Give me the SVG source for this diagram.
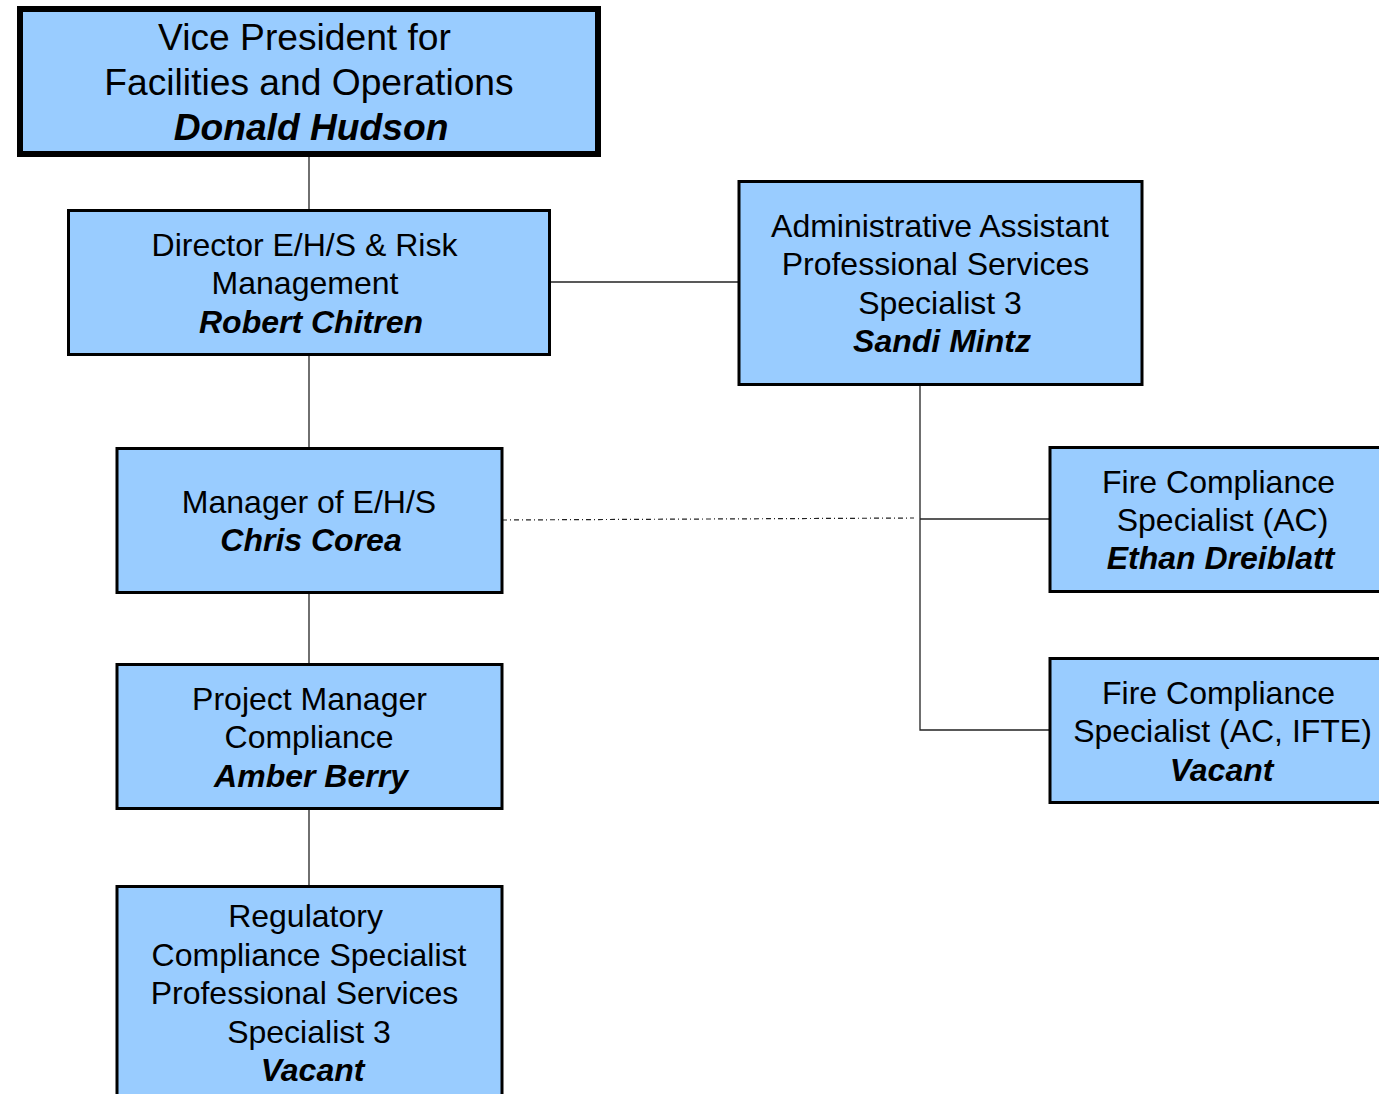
<svg xmlns="http://www.w3.org/2000/svg" width="1379" height="1094" viewBox="0 0 1379 1094">
<style>
.box{fill:#99CCFF;stroke:#000;stroke-width:3}
.t{font-family:"Liberation Sans",Arial,sans-serif;font-size:32px;fill:#000;text-anchor:middle}
.vp{font-size:37.2px}
.n{font-weight:bold;font-style:italic}
.c{stroke:#222;stroke-width:1.3;fill:none}
.d{stroke:#222;stroke-width:1.2;fill:none;stroke-dasharray:5 3 1 3}
</style>
<rect width="1379" height="1094" fill="#fff"/>
<g id="connectors">
<line class="c" x1="309" y1="157" x2="309" y2="209"/>
<line class="c" x1="309" y1="355" x2="309" y2="447"/>
<line class="c" x1="309" y1="593" x2="309" y2="663"/>
<line class="c" x1="309" y1="809" x2="309" y2="885"/>
<line class="c" x1="550" y1="282" x2="738" y2="282"/>
<polyline class="c" points="920,385 920,730 1049,730"/>
<line class="c" x1="920" y1="519" x2="1049" y2="519"/>
<line class="d" x1="502" y1="520" x2="914" y2="518"/>
</g>
<g id="vp">
<rect class="box" x="20" y="9" width="578" height="145" style="stroke-width:6"/>
<text class="t vp" x="304.5" y="50">Vice President for</text>
<text class="t vp" x="309" y="95">Facilities and Operations</text>
<text class="t vp n" x="311" y="140">Donald Hudson</text>
</g>
<g id="director">
<rect class="box" x="68.5" y="210.5" width="481" height="144"/>
<text class="t" x="304.5" y="256">Director E/H/S &amp; Risk</text>
<text class="t" x="305" y="294">Management</text>
<text class="t n" x="311" y="333">Robert Chitren</text>
</g>
<g id="admin">
<rect class="box" x="739" y="181.5" width="403" height="203"/>
<text class="t" x="940" y="237">Administrative Assistant</text>
<text class="t" x="935.5" y="275">Professional Services</text>
<text class="t" x="940" y="314">Specialist 3</text>
<text class="t n" x="942" y="352">Sandi Mintz</text>
</g>
<g id="manager">
<rect class="box" x="117" y="448.5" width="385" height="144"/>
<text class="t" x="309" y="513">Manager of E/H/S</text>
<text class="t n" x="311" y="551">Chris Corea</text>
</g>
<g id="fire1">
<rect class="box" x="1050" y="447.5" width="345" height="144"/>
<text class="t" x="1218.5" y="493">Fire Compliance</text>
<text class="t" x="1222.5" y="531">Specialist (AC)</text>
<text class="t n" x="1220.5" y="569">Ethan Dreiblatt</text>
</g>
<g id="fire2">
<rect class="box" x="1050" y="658.5" width="345" height="144"/>
<text class="t" x="1218.5" y="704">Fire Compliance</text>
<text class="t" x="1222.5" y="742">Specialist (AC, IFTE)</text>
<text class="t n" x="1221.5" y="781">Vacant</text>
</g>
<g id="pm">
<rect class="box" x="117" y="664.5" width="385" height="144"/>
<text class="t" x="309.5" y="710">Project Manager</text>
<text class="t" x="309" y="748">Compliance</text>
<text class="t n" x="311" y="787">Amber Berry</text>
</g>
<g id="regulatory">
<rect class="box" x="117" y="886.5" width="385" height="230"/>
<text class="t" x="305.5" y="927">Regulatory</text>
<text class="t" x="309" y="966">Compliance Specialist</text>
<text class="t" x="304.5" y="1004">Professional Services</text>
<text class="t" x="309" y="1043">Specialist 3</text>
<text class="t n" x="312.5" y="1081">Vacant</text>
</g>
</svg>
